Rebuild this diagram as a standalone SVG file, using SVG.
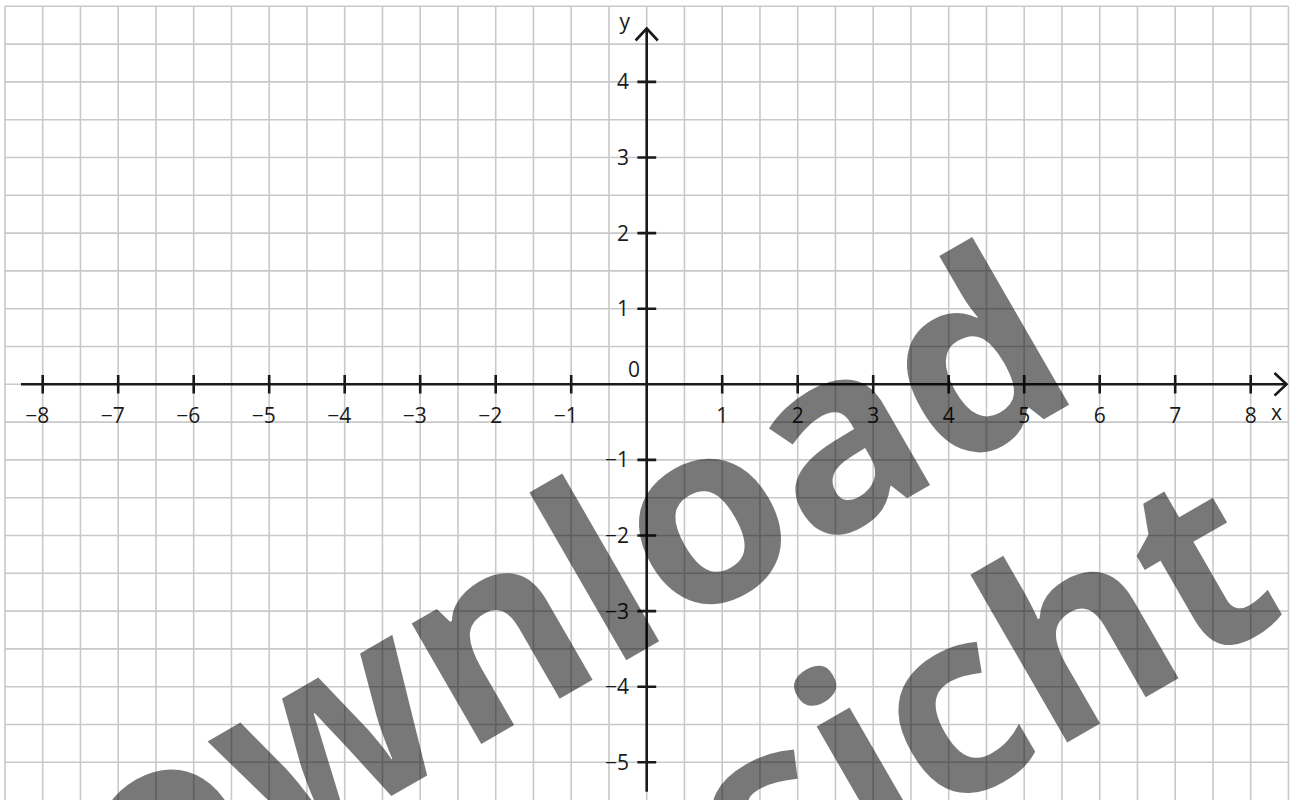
<svg xmlns="http://www.w3.org/2000/svg" width="1298" height="800" viewBox="0 0 1298 800">
<style>
.grid{stroke:#c9c9c9;stroke-width:1.6;fill:none}
.axis{stroke:#1a1a1a;stroke-width:2.6;fill:none;stroke-linecap:butt}
.arrow{stroke:#1a1a1a;stroke-width:2.6;fill:none;stroke-linejoin:miter}
.lbl{font-family:"Open Sans","Noto Sans",sans-serif;font-size:21px;fill:#1a1a1a}
.wm{font-family:"Open Sans","Noto Sans",sans-serif;font-weight:bold;font-size:255px;fill:#000;fill-opacity:0.53}
</style>
<rect width="1298" height="800" fill="#fff"/>
<g id="grid">
<path class="grid" d="M4.95 6.3V800M42.7 6.3V800M80.45 6.3V800M118.2 6.3V800M155.95 6.3V800M193.7 6.3V800M231.45 6.3V800M269.2 6.3V800M306.95 6.3V800M344.7 6.3V800M382.45 6.3V800M420.2 6.3V800M457.95 6.3V800M495.7 6.3V800M533.45 6.3V800M571.2 6.3V800M608.95 6.3V800M646.7 6.3V800M684.45 6.3V800M722.2 6.3V800M759.95 6.3V800M797.7 6.3V800M835.45 6.3V800M873.2 6.3V800M910.95 6.3V800M948.7 6.3V800M986.45 6.3V800M1024.2 6.3V800M1061.95 6.3V800M1099.7 6.3V800M1137.45 6.3V800M1175.2 6.3V800M1212.95 6.3V800M1250.7 6.3V800M1288.45 6.3V800"/>
<path class="grid" d="M4.95 6.3H1288.45M4.95 44.1H1288.45M4.95 81.9H1288.45M4.95 119.7H1288.45M4.95 157.5H1288.45M4.95 195.3H1288.45M4.95 233.1H1288.45M4.95 270.9H1288.45M4.95 308.7H1288.45M4.95 346.5H1288.45M4.95 384.3H1288.45M4.95 422.1H1288.45M4.95 459.9H1288.45M4.95 497.7H1288.45M4.95 535.5H1288.45M4.95 573.3H1288.45M4.95 611.1H1288.45M4.95 648.9H1288.45M4.95 686.7H1288.45M4.95 724.5H1288.45M4.95 762.3H1288.45"/>
</g>
<g id="axes">
<path class="axis" d="M21 384.3H1286M646.7 29.5V791.7"/>
<path class="arrow" d="M1274.5 373L1286.5 384.3L1274.5 395.6M635.6 40.5L646.7 28.5L657.8 40.5"/>
<path class="axis" d="M42.7 375V393.6M118.2 375V393.6M193.7 375V393.6M269.2 375V393.6M344.7 375V393.6M420.2 375V393.6M495.7 375V393.6M571.2 375V393.6M722.2 375V393.6M797.7 375V393.6M873.2 375V393.6M948.7 375V393.6M1024.2 375V393.6M1099.7 375V393.6M1175.2 375V393.6M1250.7 375V393.6"/>
<path class="axis" d="M637.4 81.9H656.2M637.4 157.5H656.2M637.4 233.1H656.2M637.4 308.7H656.2M637.4 459.9H656.2M637.4 535.5H656.2M637.4 611.1H656.2M637.4 686.7H656.2M637.4 762.3H656.2"/>
</g>
<g id="labels" class="lbl">
<g text-anchor="end">
<text x="49.2" y="423">−8</text>
<text x="124.7" y="423">−7</text>
<text x="200.2" y="423">−6</text>
<text x="275.7" y="423">−5</text>
<text x="351.2" y="423">−4</text>
<text x="426.7" y="423">−3</text>
<text x="502.2" y="423">−2</text>
<text x="577.7" y="423">−1</text>
</g>
<g text-anchor="middle">
<text x="722.2" y="423">1</text>
<text x="797.7" y="423">2</text>
<text x="873.2" y="423">3</text>
<text x="948.7" y="423">4</text>
<text x="1024.2" y="423">5</text>
<text x="1099.7" y="423">6</text>
<text x="1175.2" y="423">7</text>
<text x="1250.7" y="423">8</text>
</g>
<g text-anchor="end">
<text x="629" y="89.4">4</text>
<text x="629" y="165">3</text>
<text x="629" y="240.6">2</text>
<text x="629" y="316.2">1</text>
<text x="640" y="376.5">0</text>
<text x="629" y="467.4">−1</text>
<text x="629" y="543">−2</text>
<text x="629" y="618.6">−3</text>
<text x="629" y="694.2">−4</text>
<text x="629" y="769.8">−5</text>
</g>
<text x="619.5" y="29">y</text>
<text x="1271" y="420">x</text>
</g>
<g id="watermark" class="wm" text-anchor="middle">
<text transform="translate(530.5,715.6) rotate(-30)">Download</text>
<text transform="translate(876.3,852.8) rotate(-30)">Ansicht</text>
</g>
</svg>
